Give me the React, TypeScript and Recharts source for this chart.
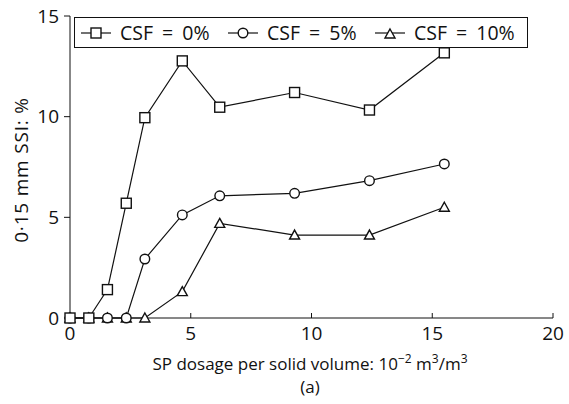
import { LineChart, Line, XAxis, YAxis } from "recharts";

// SP dosage (10^-2 m3/m3) and 0.15 mm SSI (%) per CSF content
const dosage = [0, 0.78, 1.55, 2.33, 3.1, 4.65, 6.2, 9.3, 12.4, 15.5];
const csf0 = [0, 0, 1.41, 5.7, 9.95, 12.77, 10.47, 11.2, 10.33, 13.17];
const csf5 = [0, 0, 0, 0, 2.93, 5.12, 6.07, 6.19, 6.82, 7.65];
const csf10 = [0, 0, 0, 0, 0, 1.31, 4.7, 4.12, 4.12, 5.5];

const xTicks = [0, 5, 10, 15, 20];
const yTicks = [0, 5, 10, 15];
const seriesNames = ["CSF = 0%", "CSF = 5%", "CSF = 10%"];

const data = dosage.map((x, i) => ({
    x,
    csf0: csf0[i],
    csf5: csf5[i],
    csf10: csf10[i],
}));

const FONT = "'Open Sans', 'DejaVu Sans', sans-serif";
const INK = "#111";

type DotProps = { cx?: number; cy?: number; index?: number };

const SquareDot = ({ cx = 0, cy = 0, index }: DotProps) => (
    <rect key={`s${index}`} x={cx - 5} y={cy - 5} width={10} height={10} fill="#fff" stroke={INK} strokeWidth={1.4} />
);

const CircleDot = ({ cx = 0, cy = 0, index }: DotProps) => (
    <circle key={`c${index}`} cx={cx} cy={cy} r={4.8} fill="#fff" stroke={INK} strokeWidth={1.4} />
);

const TriangleDot = ({ cx = 0, cy = 0, index }: DotProps) => (
    <path
        key={`t${index}`}
        d={`M${cx},${cy - 5} L${cx + 5},${cy + 4} L${cx - 5},${cy + 4} Z`}
        fill="#fff"
        stroke={INK}
        strokeWidth={1.4}
    />
);

function LegendIcon({ kind }: { kind: number }) {
    return (
        <svg width={32} height={14} style={{ display: "block", flex: "none" }}>
            <line x1={1} y1={7} x2={31} y2={7} stroke={INK} strokeWidth={1.2} />
            {kind === 0 && <SquareDot cx={16} cy={7} />}
            {kind === 1 && <CircleDot cx={16} cy={7} />}
            {kind === 2 && <TriangleDot cx={16} cy={8} />}
        </svg>
    );
}

export default function App() {
    return (
        <div style={{ position: "relative", width: 569, height: 404, background: "#fff", fontFamily: FONT }}>
            <style>{"body{margin:0}"}</style>
            <LineChart
                width={569}
                height={404}
                data={data}
                margin={{ top: 16, right: 16, bottom: 56, left: 0 }}
            >
                <XAxis
                    dataKey="x"
                    type="number"
                    domain={[0, 20]}
                    ticks={xTicks}
                    interval={0}
                    height={30}
                    stroke={INK}
                    tickSize={-5}
                    tickMargin={14}
                    tick={{ fill: INK, fontSize: 19, fontFamily: FONT }}
                    label={{
                        content: () => (
                            <g fontFamily={FONT} fill={INK}>
                                <text x={310} y={370} textAnchor="middle" fontSize={17}>
                                    SP dosage per solid volume: 10
                                    <tspan dy={-7} fontSize={12}>−2</tspan>
                                    <tspan dy={7}> m</tspan>
                                    <tspan dy={-7} fontSize={12}>3</tspan>
                                    <tspan dy={7}>/m</tspan>
                                    <tspan dy={-7} fontSize={12}>3</tspan>
                                </text>
                                <text x={310} y={393} textAnchor="middle" fontSize={17}>
                                    (a)
                                </text>
                            </g>
                        ),
                    }}
                />
                <YAxis
                    type="number"
                    domain={[0, 15]}
                    ticks={yTicks}
                    interval={0}
                    width={70}
                    stroke={INK}
                    tickSize={6}
                    tickMargin={5}
                    tick={{ fill: INK, fontSize: 19, fontFamily: FONT }}
                    label={{
                        content: () => (
                            <text
                                x={0}
                                y={0}
                                transform="translate(28,170) rotate(-90)"
                                textAnchor="middle"
                                fontSize={19}
                                letterSpacing={0.8}
                                fontFamily={FONT}
                                fill={INK}
                            >
                                0·15 mm SSI: %
                            </text>
                        ),
                    }}
                />
                <Line
                    dataKey="csf10"
                    stroke={INK}
                    strokeWidth={1.2}
                    dot={(p: DotProps) => <TriangleDot {...p} key={`t${p.index}`} />}
                    isAnimationActive={false}
                />
                <Line
                    dataKey="csf5"
                    stroke={INK}
                    strokeWidth={1.2}
                    dot={(p: DotProps) => <CircleDot {...p} key={`c${p.index}`} />}
                    isAnimationActive={false}
                />
                <Line
                    dataKey="csf0"
                    stroke={INK}
                    strokeWidth={1.2}
                    dot={(p: DotProps) => <SquareDot {...p} key={`s${p.index}`} />}
                    isAnimationActive={false}
                />
            </LineChart>

            {/* Legend */}
            <div
                style={{
                    position: "absolute",
                    left: 74,
                    top: 17,
                    width: 454,
                    height: 31,
                    boxSizing: "border-box",
                    border: `1.3px solid ${INK}`,
                    background: "#fff",
                    display: "flex",
                    alignItems: "center",
                    paddingLeft: 5,
                    fontSize: 19.5,
                    color: INK,
                    wordSpacing: 4,
                }}
            >
                {seriesNames.map((name) => (
                    <div key={name} style={{ display: "flex", alignItems: "center", width: 147, flex: "none" }}>
                        <LegendIcon kind={seriesNames.indexOf(name)} />
                        <span style={{ marginLeft: 8, whiteSpace: "nowrap" }}>{name}</span>
                    </div>
                ))}
            </div>
        </div>
    );
}
